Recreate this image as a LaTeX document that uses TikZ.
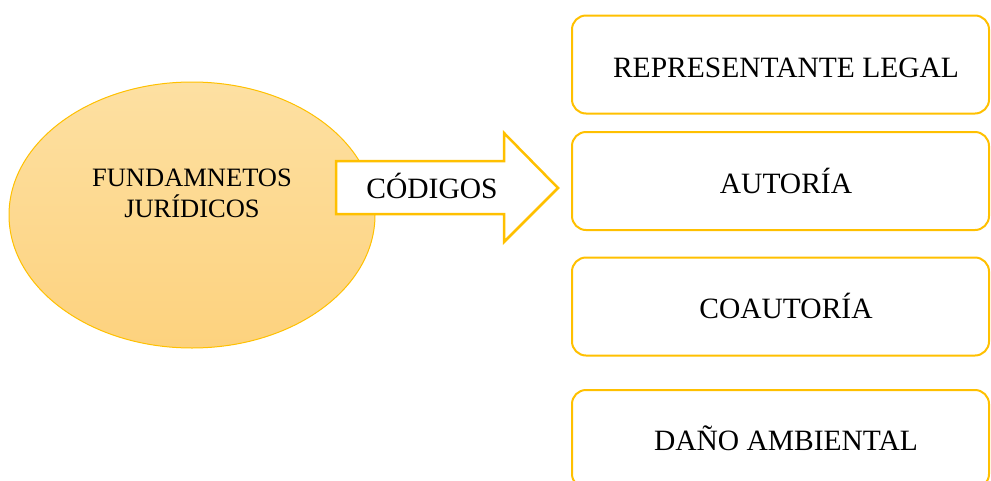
\documentclass[tikz,border=0pt]{standalone}
\usepackage{fontspec}
\setmainfont{Liberation Serif}
\usetikzlibrary{shapes.geometric}
\definecolor{gold}{RGB}{255,192,0}
\definecolor{ltop}{RGB}{253,224,162}
\definecolor{lbot}{RGB}{253,210,126}
\tikzset{
  itembox/.style={draw=gold, line width=2pt, rounded corners=14pt, fill=white,
    minimum width=417pt, minimum height=98pt, inner sep=0pt},
  bigoval/.style={ellipse, draw=gold, line width=1pt, top color=ltop, bottom color=lbot,
    minimum width=366pt, minimum height=266pt, inner sep=0pt},
  arrowshape/.style={draw=gold, line width=2.5pt, fill=white, line join=miter},
  lbl/.style={font=\fontsize{29.5}{34}\selectfont, inner sep=0pt, anchor=base},
  ovallbl/.style={font=\fontsize{26.5}{31}\selectfont, inner sep=0pt, anchor=base, align=center}
}
\begin{document}
\begin{tikzpicture}[x=1pt, y=-1pt]
\useasboundingbox (0,0) rectangle (991,480);
\node[bigoval] (fund) at (192,215) {};
\node[ovallbl] (fundtxt) at (192,217) {FUNDAMNETOS\\JURÍDICOS};
\draw[arrowshape] (336,161) -- (504,161) -- (504,133) -- (558,188) -- (504,242) -- (504,214) -- (336,214) -- cycle;
\node[lbl] (cod) at (432,198) {CÓDIGOS};
\node[itembox] (b1) at (780.5,64.5) {};
\node[itembox] (b2) at (780.5,181) {};
\node[itembox] (b3) at (780.5,306.5) {};
\node[itembox] (b4) at (780.5,439) {};
\node[lbl] (t1) at (786,77) {REPRESENTANTE LEGAL};
\node[lbl] (t2) at (786,193) {AUTORÍA};
\node[lbl] (t3) at (786,318) {COAUTORÍA};
\node[lbl] (t4) at (786,450) {DAÑO AMBIENTAL};
\end{tikzpicture}
\end{document}
